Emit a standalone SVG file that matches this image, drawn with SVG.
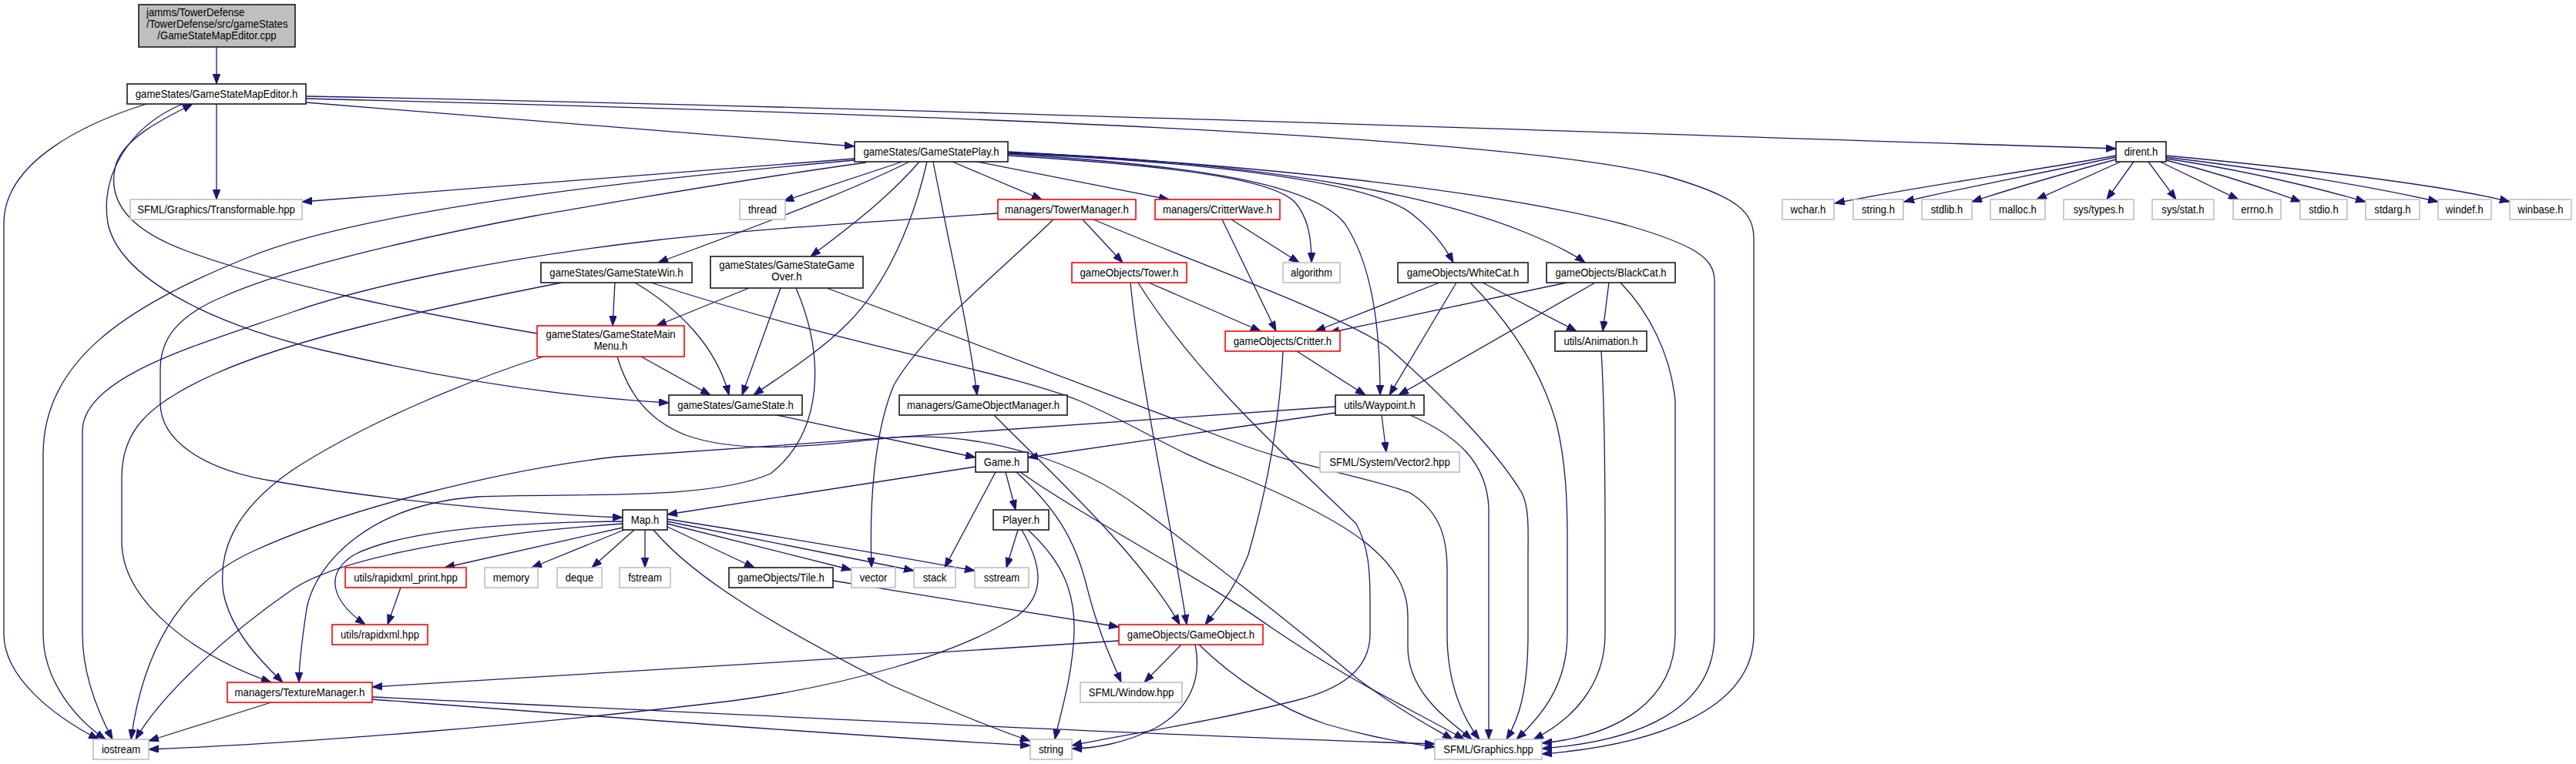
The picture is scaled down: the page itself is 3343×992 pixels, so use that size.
<svg xmlns="http://www.w3.org/2000/svg" width="3343" height="992" viewBox="0 0 3343 992">
<style>
rect{stroke-width:1.6}
.b{fill:#fff;stroke:#1a1a1a}
.r{fill:#fff;stroke:#ff0000}
.g{fill:#fff;stroke:#bfbfbf}
.root{fill:#bfbfbf;stroke:#1a1a1a}
text{font-family:"Liberation Sans",Arial,sans-serif;font-size:15px;fill:#000;text-anchor:middle}
.e path{fill:none;stroke:#191970;stroke-width:1.3;marker-end:url(#a)}
</style>
<defs>
<marker id="a" markerWidth="14" markerHeight="10" refX="13" refY="4.75" orient="auto" markerUnits="userSpaceOnUse">
<path d="M0,0 L13,4.75 L0,9.5 z" fill="#191970" stroke="#191970" stroke-width="1"/>
</marker>
</defs>
<rect x="0" y="0" width="3343" height="992" fill="#fff"/>
<g id="connectors" class="e">
<path d="M281,61 L281,109"/>
<path d="M190,135 C110,160 5,210 5,290 L5,823 C5,880 70,930 128,960"/>
<path d="M237,135 C165,165 130,230 140,290 C155,360 270,420 420,455 C570,490 720,515 868,523"/>
<path d="M697,433 C560,410 360,370 240,325 C160,295 140,255 150,215 C160,180 210,155 250,135"/>
<path d="M281,135 L281,259"/>
<path d="M397,133 L1109,190"/>
<path d="M397,125 C1200,140 2000,170 2746,193"/>
<path d="M397,128 C1200,148 1950,175 2160,228 C2255,255 2276,275 2276,310 L2276,823 C2276,925 2140,968 2001,979"/>
<path d="M1308,197 C1650,215 1950,250 2110,292 C2200,318 2225,335 2225,365 L2225,823 C2225,920 2130,962 2001,972"/>
<path d="M1308,202 C1520,215 1650,232 1680,262 C1698,282 1702,310 1702,341"/>
<path d="M1308,200 C1560,215 1705,240 1745,290 C1782,345 1791,430 1791,513"/>
<path d="M1308,199 C1600,212 1790,240 1835,280 C1860,300 1875,320 1886,341"/>
<path d="M1308,198 C1680,212 1880,262 1975,300 C2020,318 2042,330 2057,341"/>
<path d="M1171,210 L1017,261"/>
<path d="M1180,210 C1090,255 950,305 854,341"/>
<path d="M1193,210 C1150,260 1095,300 1052,333"/>
<path d="M1203,210 C1185,290 1150,370 1100,420 C1060,460 1010,490 978,513"/>
<path d="M1211,210 C1232,320 1256,420 1268,513"/>
<path d="M1236,210 L1352,259"/>
<path d="M1268,210 L1517,259"/>
<path d="M1109,206 L392,262"/>
<path d="M1109,208 C750,240 450,280 320,335 C160,400 56,470 56,590 L56,823 C56,885 100,935 137,960"/>
<path d="M1124,211 C950,235 800,262 695,280 C560,305 380,345 290,385 C230,410 208,440 208,480 L208,523 C208,570 260,610 357,625 C500,650 700,668 808,672"/>
<path d="M1295,277 C1100,290 950,300 850,312 C650,335 480,370 380,405 C250,450 107,490 107,560 L107,823 C107,880 130,930 146,960"/>
<path d="M1367,285 C1300,350 1200,430 1160,500 C1135,560 1128,650 1131,737"/>
<path d="M1405,285 L1457,341"/>
<path d="M1419,285 C1560,345 1720,400 1800,450 C1880,520 1945,590 1975,640 C1985,660 1983,690 1983,720 L1983,823 C1983,900 1970,935 1955,960"/>
<path d="M1586,285 L1656,430"/>
<path d="M1598,285 L1686,341"/>
<path d="M1868,367 L1707,430"/>
<path d="M1890,367 L1803,513"/>
<path d="M1924,367 L2046,430"/>
<path d="M1908,367 C1960,420 2000,480 2020,550 C2032,600 2034,650 2034,700 L2034,823 C2034,890 2000,930 1968,960"/>
<path d="M2033,367 L1725,432"/>
<path d="M2070,367 L1815,513"/>
<path d="M2088,367 L2080,430"/>
<path d="M2103,367 C2140,405 2168,460 2174,520 L2174,823 C2174,910 2100,955 2001,965"/>
<path d="M2078,456 C2082,520 2083,600 2083,700 L2083,823 C2083,890 2040,935 1990,960"/>
<path d="M1683,456 L1772,513"/>
<path d="M1665,456 C1660,560 1640,650 1620,720 C1600,770 1580,790 1564,811"/>
<path d="M1491,367 L1636,430"/>
<path d="M1467,367 C1480,500 1515,650 1540,811"/>
<path d="M1477,367 C1560,500 1700,620 1760,680 C1776,710 1778,740 1778,780 L1778,823 C1778,870 1740,895 1680,910 C1560,940 1450,955 1391,968"/>
<path d="M1793,539 L1799,587"/>
<path d="M1830,539 C1890,565 1930,600 1932,660 L1932,960"/>
<path d="M1733,528 L800,593 C650,610 450,660 330,715 C230,760 185,850 170,960"/>
<path d="M1733,536 C1600,555 1450,578 1334,594"/>
<path d="M1008,539 L1266,594"/>
<path d="M1290,539 C1360,610 1480,720 1531,811"/>
<path d="M1266,606 L866,668"/>
<path d="M1292,613 L1226,737"/>
<path d="M1305,613 L1318,662"/>
<path d="M1319,613 C1370,660 1395,700 1410,760 C1425,820 1440,850 1455,886"/>
<path d="M1324,613 C1420,680 1560,750 1650,815 C1760,890 1850,930 1900,960"/>
<path d="M808,677 C650,678 520,690 460,720 C420,745 430,780 474,811"/>
<path d="M808,680 C600,695 440,725 380,765 C300,820 210,900 176,960"/>
<path d="M808,685 L577,737"/>
<path d="M810,688 L690,737"/>
<path d="M823,688 L768,737"/>
<path d="M837,688 L837,737"/>
<path d="M866,684 L979,737"/>
<path d="M866,680 L1105,740"/>
<path d="M866,677 L1186,741"/>
<path d="M866,674 C1000,695 1150,720 1265,741"/>
<path d="M848,688 C900,750 1000,810 1157,890 C1250,930 1300,950 1337,962"/>
<path d="M1321,688 L1306,737"/>
<path d="M1334,688 C1380,730 1395,770 1394,820 C1392,880 1375,930 1369,960"/>
<path d="M1326,688 C1350,730 1360,770 1320,800 C1240,850 1100,890 950,910 C700,940 400,965 193,973"/>
<path d="M1081,754 L1452,814"/>
<path d="M1452,832 C1100,855 700,880 483,892"/>
<path d="M1533,837 L1485,886"/>
<path d="M1551,837 C1560,880 1545,920 1500,945 C1460,965 1420,972 1391,972"/>
<path d="M1556,837 C1600,880 1660,920 1720,940 C1780,958 1830,965 1862,970"/>
<path d="M352,912 L193,962"/>
<path d="M483,908 C800,932 1100,955 1337,968"/>
<path d="M483,905 C900,925 1500,955 1862,966"/>
<path d="M520,763 L503,811"/>
<path d="M798,367 L795,423"/>
<path d="M824,367 C880,400 930,450 946,513"/>
<path d="M729,367 C560,400 380,440 280,485 C190,525 158,560 158,620 L158,703 C158,780 250,850 352,886"/>
<path d="M845,367 C1100,450 1300,480 1400,520 C1480,555 1520,585 1600,615 C1760,680 1827,730 1827,800 L1827,840 C1827,900 1880,935 1910,960"/>
<path d="M972,374 L852,423"/>
<path d="M1013,374 L963,513"/>
<path d="M1033,374 C1070,460 1070,560 1000,615 C920,650 750,640 620,645 C480,655 410,730 398,790 C392,830 388,860 388,886"/>
<path d="M1073,374 L1600,573 C1680,605 1780,620 1830,640 C1870,665 1878,700 1878,740 L1878,823 C1878,890 1900,935 1920,960"/>
<path d="M832,463 L922,513"/>
<path d="M705,463 C620,490 480,545 380,610 C300,665 283,720 290,770 C300,820 340,860 367,886"/>
<path d="M801,463 C815,510 840,545 890,565 C960,590 1050,580 1160,568 C1280,560 1400,600 1480,660 C1600,750 1700,830 1760,880 C1820,925 1860,945 1885,960"/>
<path d="M2746,202 C2620,225 2500,240 2381,264"/>
<path d="M2746,204 C2650,225 2540,245 2471,262"/>
<path d="M2746,207 C2680,225 2610,245 2559,262"/>
<path d="M2752,210 L2643,259"/>
<path d="M2769,210 L2734,259"/>
<path d="M2788,210 L2824,259"/>
<path d="M2803,210 L2905,259"/>
<path d="M2811,208 C2880,225 2940,245 2986,262"/>
<path d="M2811,206 C2920,222 3010,245 3070,262"/>
<path d="M2811,204 C2960,222 3090,245 3164,262"/>
<path d="M2811,202 C3000,220 3170,240 3257,262"/>
</g>
<g id="n_cpp"><rect class="root" x="180" y="6" width="203" height="55"/><text x="190" y="21" style="text-anchor:start" textLength="127.4" lengthAdjust="spacingAndGlyphs">jamms/TowerDefense</text><text x="190" y="36" style="text-anchor:start" textLength="183.5" lengthAdjust="spacingAndGlyphs">/TowerDefense/src/gameStates</text><text x="281.5" y="51" textLength="154.4" lengthAdjust="spacingAndGlyphs">/GameStateMapEditor.cpp</text></g>
<g id="n_mapeditor"><rect class="b" x="165" y="109" width="232" height="26"/><text x="281" y="127" textLength="210.4" lengthAdjust="spacingAndGlyphs">gameStates/GameStateMapEditor.h</text></g>
<g id="n_transformable"><rect class="g" x="169" y="259" width="223" height="26"/><text x="280.5" y="277" textLength="204.6" lengthAdjust="spacingAndGlyphs">SFML/Graphics/Transformable.hpp</text></g>
<g id="n_play"><rect class="b" x="1109" y="184" width="199" height="26"/><text x="1208.5" y="202" textLength="176.2" lengthAdjust="spacingAndGlyphs">gameStates/GameStatePlay.h</text></g>
<g id="n_dirent"><rect class="b" x="2746" y="184" width="65" height="26"/><text x="2778.5" y="202" textLength="43.7" lengthAdjust="spacingAndGlyphs">dirent.h</text></g>
<g id="n_thread"><rect class="g" x="960" y="259" width="59" height="26"/><text x="989.5" y="277" textLength="37.1" lengthAdjust="spacingAndGlyphs">thread</text></g>
<g id="n_towermanager"><rect class="r" x="1295" y="259" width="179" height="26"/><text x="1384.5" y="277" textLength="160.9" lengthAdjust="spacingAndGlyphs">managers/TowerManager.h</text></g>
<g id="n_critterwave"><rect class="r" x="1499" y="259" width="162" height="26"/><text x="1580" y="277" textLength="142" lengthAdjust="spacingAndGlyphs">managers/CritterWave.h</text></g>
<g id="n_wchar"><rect class="g" x="2313" y="259" width="67" height="26"/><text x="2346.5" y="277" textLength="45.9" lengthAdjust="spacingAndGlyphs">wchar.h</text></g>
<g id="n_stringh"><rect class="g" x="2405" y="259" width="65" height="26"/><text x="2437.5" y="277" textLength="43" lengthAdjust="spacingAndGlyphs">string.h</text></g>
<g id="n_stdlib"><rect class="g" x="2494" y="259" width="65" height="26"/><text x="2526.5" y="277" textLength="41.5" lengthAdjust="spacingAndGlyphs">stdlib.h</text></g>
<g id="n_malloc"><rect class="g" x="2583" y="259" width="71" height="26"/><text x="2618.5" y="277" textLength="48.8" lengthAdjust="spacingAndGlyphs">malloc.h</text></g>
<g id="n_systypes"><rect class="g" x="2678" y="259" width="91" height="26"/><text x="2723.5" y="277" textLength="65.5" lengthAdjust="spacingAndGlyphs">sys/types.h</text></g>
<g id="n_sysstat"><rect class="g" x="2793" y="259" width="80" height="26"/><text x="2833" y="277" textLength="55.3" lengthAdjust="spacingAndGlyphs">sys/stat.h</text></g>
<g id="n_errno"><rect class="g" x="2898" y="259" width="62" height="26"/><text x="2929" y="277" textLength="41.5" lengthAdjust="spacingAndGlyphs">errno.h</text></g>
<g id="n_stdio"><rect class="g" x="2985" y="259" width="61" height="26"/><text x="3015.5" y="277" textLength="38.6" lengthAdjust="spacingAndGlyphs">stdio.h</text></g>
<g id="n_stdarg"><rect class="g" x="3070" y="259" width="70" height="26"/><text x="3105" y="277" textLength="47.3" lengthAdjust="spacingAndGlyphs">stdarg.h</text></g>
<g id="n_windef"><rect class="g" x="3164" y="259" width="69" height="26"/><text x="3198.5" y="277" textLength="48.8" lengthAdjust="spacingAndGlyphs">windef.h</text></g>
<g id="n_winbase"><rect class="g" x="3257" y="259" width="80" height="26"/><text x="3297" y="277" textLength="59" lengthAdjust="spacingAndGlyphs">winbase.h</text></g>
<g id="n_algorithm"><rect class="g" x="1665" y="341" width="74" height="26"/><text x="1702" y="359" textLength="53.9" lengthAdjust="spacingAndGlyphs">algorithm</text></g>
<g id="n_whitecat"><rect class="b" x="1814" y="341" width="169" height="26"/><text x="1898.5" y="359" textLength="145.6" lengthAdjust="spacingAndGlyphs">gameObjects/WhiteCat.h</text></g>
<g id="n_blackcat"><rect class="b" x="2007" y="341" width="167" height="26"/><text x="2090.5" y="359" textLength="144.2" lengthAdjust="spacingAndGlyphs">gameObjects/BlackCat.h</text></g>
<g id="n_win"><rect class="b" x="702" y="341" width="196" height="26"/><text x="800" y="359" textLength="173.3" lengthAdjust="spacingAndGlyphs">gameStates/GameStateWin.h</text></g>
<g id="n_gameover"><rect class="b" x="922" y="333" width="198" height="41"/><text x="1021" y="349" textLength="175.5" lengthAdjust="spacingAndGlyphs">gameStates/GameStateGame</text><text x="1021" y="364" textLength="39.3" lengthAdjust="spacingAndGlyphs">Over.h</text></g>
<g id="n_tower"><rect class="r" x="1391" y="341" width="149" height="26"/><text x="1465.5" y="359" textLength="128.1" lengthAdjust="spacingAndGlyphs">gameObjects/Tower.h</text></g>
<g id="n_mainmenu"><rect class="r" x="697" y="423" width="191" height="40"/><text x="792.5" y="439" textLength="168.2" lengthAdjust="spacingAndGlyphs">gameStates/GameStateMain</text><text x="792.5" y="454" textLength="43.7" lengthAdjust="spacingAndGlyphs">Menu.h</text></g>
<g id="n_critter"><rect class="r" x="1590" y="430" width="149" height="26"/><text x="1664.5" y="448" textLength="127.4" lengthAdjust="spacingAndGlyphs">gameObjects/Critter.h</text></g>
<g id="n_animation"><rect class="b" x="2018" y="430" width="119" height="26"/><text x="2077.5" y="448" textLength="96.1" lengthAdjust="spacingAndGlyphs">utils/Animation.h</text></g>
<g id="n_gamestate"><rect class="b" x="868" y="513" width="173" height="26"/><text x="954.5" y="531" textLength="150.7" lengthAdjust="spacingAndGlyphs">gameStates/GameState.h</text></g>
<g id="n_gameobjectmanager"><rect class="b" x="1167" y="513" width="218" height="26"/><text x="1276" y="531" textLength="198" lengthAdjust="spacingAndGlyphs">managers/GameObjectManager.h</text></g>
<g id="n_waypoint"><rect class="b" x="1733" y="513" width="115" height="26"/><text x="1790.5" y="531" textLength="92.5" lengthAdjust="spacingAndGlyphs">utils/Waypoint.h</text></g>
<g id="n_game"><rect class="b" x="1266" y="587" width="68" height="26"/><text x="1300" y="605" textLength="46.6" lengthAdjust="spacingAndGlyphs">Game.h</text></g>
<g id="n_vector2"><rect class="g" x="1713" y="587" width="181" height="26"/><text x="1803.5" y="605" textLength="156.5" lengthAdjust="spacingAndGlyphs">SFML/System/Vector2.hpp</text></g>
<g id="n_map"><rect class="b" x="808" y="662" width="58" height="26"/><text x="837" y="680" textLength="36.4" lengthAdjust="spacingAndGlyphs">Map.h</text></g>
<g id="n_player"><rect class="b" x="1289" y="662" width="72" height="26"/><text x="1325" y="680" textLength="48.1" lengthAdjust="spacingAndGlyphs">Player.h</text></g>
<g id="n_rapidxml_print"><rect class="r" x="448" y="737" width="157" height="26"/><text x="526.5" y="755" textLength="134.7" lengthAdjust="spacingAndGlyphs">utils/rapidxml_print.hpp</text></g>
<g id="n_memory"><rect class="g" x="629" y="737" width="69" height="26"/><text x="663.5" y="755" textLength="47.3" lengthAdjust="spacingAndGlyphs">memory</text></g>
<g id="n_deque"><rect class="g" x="723" y="737" width="58" height="26"/><text x="752" y="755" textLength="36.4" lengthAdjust="spacingAndGlyphs">deque</text></g>
<g id="n_fstream"><rect class="g" x="804" y="737" width="66" height="26"/><text x="837" y="755" textLength="43.7" lengthAdjust="spacingAndGlyphs">fstream</text></g>
<g id="n_tile"><rect class="b" x="946" y="737" width="135" height="26"/><text x="1013.5" y="755" textLength="112.8" lengthAdjust="spacingAndGlyphs">gameObjects/Tile.h</text></g>
<g id="n_vector"><rect class="g" x="1105" y="737" width="57" height="26"/><text x="1133.5" y="755" textLength="35.7" lengthAdjust="spacingAndGlyphs">vector</text></g>
<g id="n_stack"><rect class="g" x="1186" y="737" width="54" height="26"/><text x="1213" y="755" textLength="30.6" lengthAdjust="spacingAndGlyphs">stack</text></g>
<g id="n_sstream"><rect class="g" x="1265" y="737" width="70" height="26"/><text x="1300" y="755" textLength="46.6" lengthAdjust="spacingAndGlyphs">sstream</text></g>
<g id="n_rapidxml"><rect class="r" x="431" y="811" width="124" height="26"/><text x="493" y="829" textLength="101.9" lengthAdjust="spacingAndGlyphs">utils/rapidxml.hpp</text></g>
<g id="n_gameobject"><rect class="r" x="1452" y="811" width="187" height="26"/><text x="1545.5" y="829" textLength="165.3" lengthAdjust="spacingAndGlyphs">gameObjects/GameObject.h</text></g>
<g id="n_texturemanager"><rect class="r" x="295" y="886" width="188" height="26"/><text x="389" y="904" textLength="168.9" lengthAdjust="spacingAndGlyphs">managers/TextureManager.h</text></g>
<g id="n_window"><rect class="g" x="1402" y="886" width="132" height="26"/><text x="1468" y="904" textLength="110.7" lengthAdjust="spacingAndGlyphs">SFML/Window.hpp</text></g>
<g id="n_iostream"><rect class="g" x="121" y="960" width="72" height="26"/><text x="157" y="978" textLength="50.2" lengthAdjust="spacingAndGlyphs">iostream</text></g>
<g id="n_string"><rect class="g" x="1337" y="960" width="54" height="26"/><text x="1364" y="978" textLength="32" lengthAdjust="spacingAndGlyphs">string</text></g>
<g id="n_graphics"><rect class="g" x="1862" y="960" width="139" height="26"/><text x="1931.5" y="978" textLength="116.5" lengthAdjust="spacingAndGlyphs">SFML/Graphics.hpp</text></g>
</svg>
